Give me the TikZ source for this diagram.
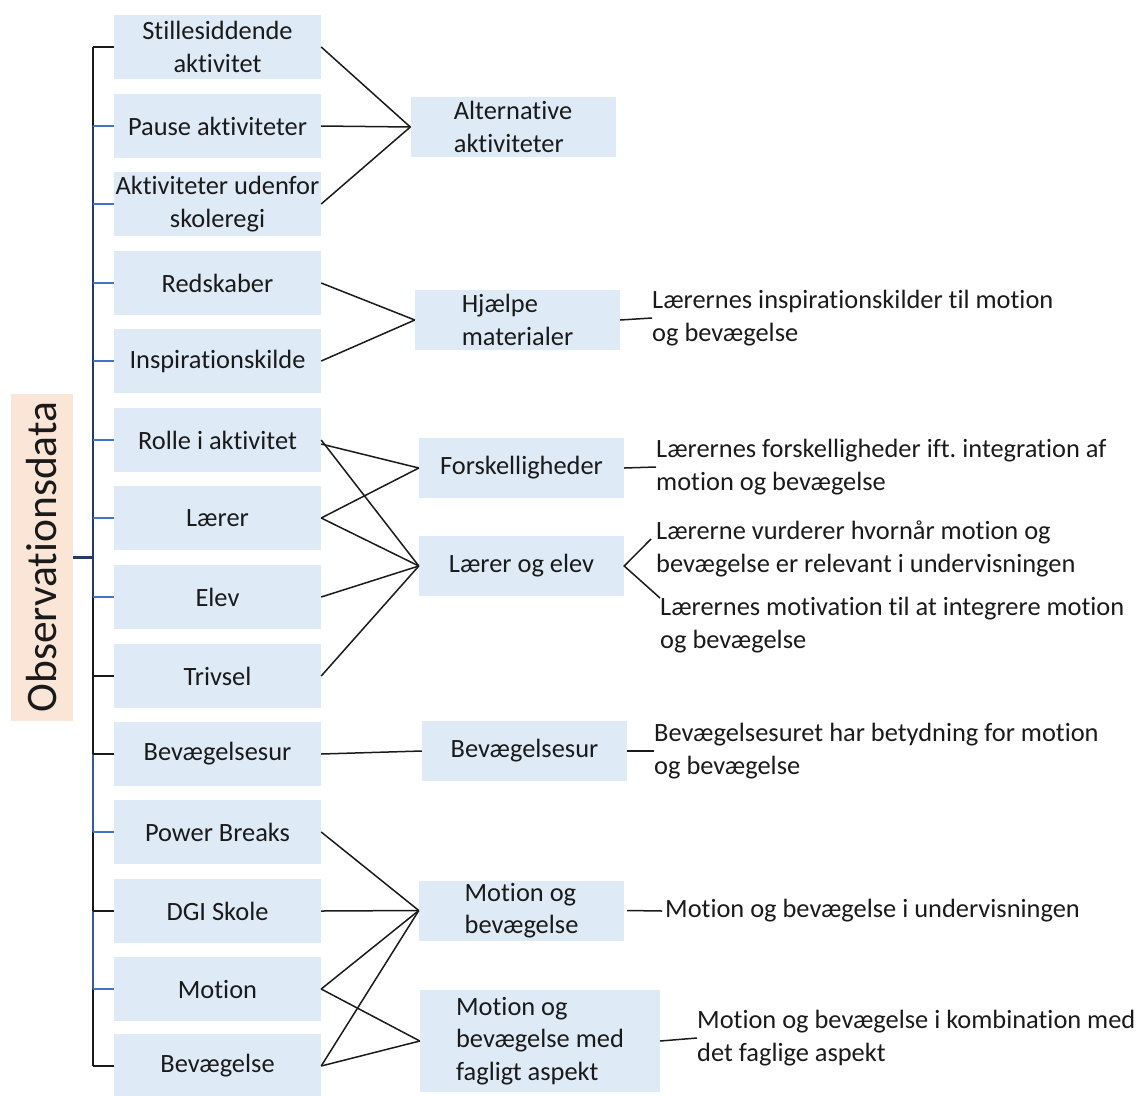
\documentclass[tikz,border=0pt]{standalone}
\usepackage{fontspec}
\setmainfont{Carlito}[Ligatures={NoCommon}]
\frenchspacing
\definecolor{boxblue}{HTML}{DEEAF6}
\definecolor{salmon}{HTML}{FBE5D6}
\definecolor{tickblue}{HTML}{4472C4}
\definecolor{navy}{HTML}{22396A}
\definecolor{ink}{HTML}{1A1A1A}
\begin{document}
\begin{tikzpicture}[x=1pt,y=-1pt,
  every node/.style={font=\fontsize{26.4}{32.4}\selectfont, text=ink},
  leftbox/.style={fill=boxblue, minimum width=207pt, minimum height=64pt, inner sep=0pt, align=center},
  midbox/.style={fill=boxblue, minimum width=205pt, minimum height=60pt, inner sep=0pt, align=left},
  note/.style={anchor=west, inner sep=0pt, align=left},
  link/.style={draw=ink, line width=1.5pt},
  blueTick/.style={draw=tickblue, line width=1.4pt},
  darkTick/.style={draw=ink, line width=1.4pt}]
\useasboundingbox (0,0) rectangle (1137,1095);

% root label
\node[fill=salmon, rotate=90, minimum width=327pt, minimum height=62pt, inner sep=0pt,
      font=\fontsize{43.5}{52}\selectfont] (root) at (42,557) {Observationsdata};

% first-level boxes
\node[leftbox] (s1)  at (217.5,47)   {Stillesiddende\\aktivitet};
\node[leftbox] (s2)  at (217.5,126)  {Pause aktiviteter};
\node[leftbox] (s3)  at (217.5,204)  {Aktiviteter udenfor\\skoleregi};
\node[leftbox] (s4)  at (217.5,283)  {Redskaber};
\node[leftbox] (s5)  at (217.5,361)  {Inspirationskilde};
\node[leftbox] (s6)  at (217.5,440)  {Rolle i aktivitet};
\node[leftbox] (s7)  at (217.5,518)  {Lærer};
\node[leftbox] (s8)  at (217.5,597)  {Elev};
\node[leftbox] (s9)  at (217.5,676)  {Trivsel};
\node[leftbox] (s10) at (217.5,754)  {Bevægelsesur};
\node[leftbox] (s11) at (217.5,832)  {Power Breaks};
\node[leftbox] (s12) at (217.5,911)  {DGI Skole};
\node[leftbox] (s13) at (217.5,989)  {Motion};
\node[leftbox] (s14) at (217.5,1066) {Bevægelse};

% bracket coordinates
\coordinate (t1)  at (93,47);
\coordinate (t2)  at (93,126);
\coordinate (t3)  at (93,204);
\coordinate (t4)  at (93,283);
\coordinate (t5)  at (93,361);
\coordinate (t6)  at (93,440);
\coordinate (t7)  at (93,518);
\coordinate (t8)  at (93,597);
\coordinate (t9)  at (93,676);
\coordinate (t10) at (93,754);
\coordinate (t11) at (93,832);
\coordinate (t12) at (93,911);
\coordinate (t13) at (93,989);
\coordinate (t14) at (93,1066);
\coordinate (tr)  at (93,557);

% bracket spine
\draw[ink, line width=2.4pt] (t1) -- (t2);
\draw[navy, line width=2.6pt] (t2) -- (t8);
\draw[ink, line width=2.4pt] (t8) -- (t10);
\draw[tickblue!80!black, line width=2.4pt] (t10) -- (t11);
\draw[ink, line width=2.4pt] (t11) -- (t12);
\draw[tickblue!80!black, line width=2.4pt] (t12) -- (t13);
\draw[ink, line width=2.4pt] (t13) -- (t14);
\draw[navy, line width=3pt] (root.south) -- (tr);

% bracket ticks
\draw[darkTick] (t1) -- (s1.west);
\draw[blueTick] (t2) -- (s2.west);
\draw[blueTick] (t3) -- (s3.west);
\draw[blueTick] (t4) -- (s4.west);
\draw[blueTick] (t5) -- (s5.west);
\draw[blueTick] (t6) -- (s6.west);
\draw[blueTick] (t7) -- (s7.west);
\draw[blueTick] (t8) -- (s8.west);
\draw[darkTick] (t9) -- (s9.west);
\draw[darkTick] (t10) -- (s10.west);
\draw[blueTick] (t11) -- (s11.west);
\draw[darkTick] (t12) -- (s12.west);
\draw[blueTick] (t13) -- (s13.west);
\draw[darkTick] (t14) -- (s14.west);

% second-level boxes
\node[midbox] (alt) at (513,127)   {Alternative\\aktiviteter};
\node[midbox] (hj)  at (517.5,320) {Hjælpe\\materialer};
\node[midbox] (fo)  at (521.5,468) {Forskelligheder};
\node[midbox] (le)  at (521.5,566) {Lærer og elev};
\node[midbox] (bu)  at (524.5,751) {Bevægelsesur};
\node[midbox] (mb)  at (521.5,910.5) {Motion og\\bevægelse};
\node[midbox, minimum width=240pt, minimum height=102pt] (mbf) at (540,1041)
  {Motion og\\bevægelse med\\fagligt aspekt};

% first-to-second level links
\draw[link] (s1.east) -- (alt.west);
\draw[link] (s2.east) -- (alt.west);
\draw[link] (s3.east) -- (alt.west);
\draw[link] (s4.east) -- (hj.west);
\draw[link] (s5.east) -- (hj.west);
\draw[link] ([yshift=-4pt]s6.east) -- (fo.west);
\draw[link] (s6.east) -- (le.west);
\draw[link] (s7.east) -- (fo.west);
\draw[link] (s7.east) -- (le.west);
\draw[link] (s8.east) -- (le.west);
\draw[link] (s9.east) -- (le.west);
\draw[link] (s10.east) -- (bu.west);
\draw[link] (s11.east) -- (mb.west);
\draw[link] (s12.east) -- (mb.west);
\draw[link] (s13.east) -- (mb.west);
\draw[link] (s13.east) -- (mbf.west);
\draw[link] (s14.east) -- (mb.west);
\draw[link] (s14.east) -- (mbf.west);

% conclusions
\node[note] (n1) at (652,318)  {Lærernes inspirationskilder til motion\\og bevægelse};
\node[note] (n2) at (656,467)  {Lærernes forskelligheder ift. integration af\\motion og bevægelse};
\node[note] (n3) at (656,549)  {Lærerne vurderer hvornår motion og\\bevægelse er relevant i undervisningen};
\node[note] (n4) at (660,625)  {Lærernes motivation til at integrere motion\\og bevægelse};
\node[note] (n5) at (654,751)  {Bevægelsesuret har betydning for motion\\og bevægelse};
\node[note] (n6) at (665,911)  {Motion og bevægelse i undervisningen};
\node[note] (n7) at (697,1038) {Motion og bevægelse i kombination med\\det faglige aspekt};

\coordinate (le1) at (651,539);
\coordinate (le2) at (660,598);

\draw[link] (hj.east) -- (n1.west);
\draw[link] (fo.east) -- (n2.west);
\draw[link] (le1) -- (le.east) -- (le2);
\draw[link] (bu.east) -- (n5.west);
\draw[link] ([xshift=3pt]mb.east) -- ([xshift=-3pt]n6.west);
\draw[link] (mbf.east) -- (n7.west);
\end{tikzpicture}
\end{document}
